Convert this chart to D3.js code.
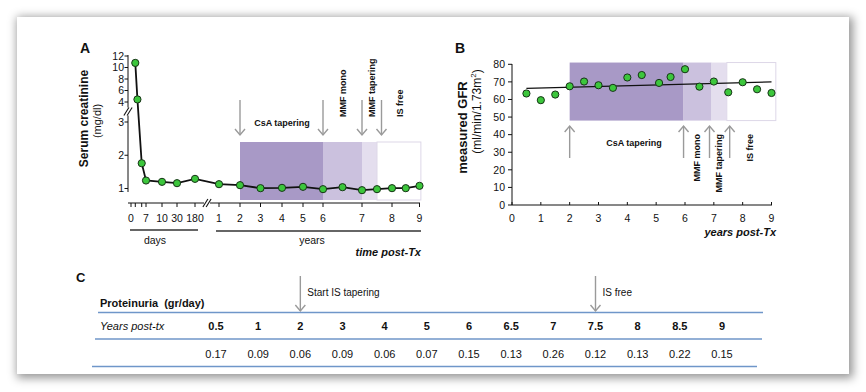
<!DOCTYPE html>
<html><head><meta charset="utf-8">
<script src="https://cdn.jsdelivr.net/npm/d3@7"></script>
<style>
body{margin:0;background:#fff;width:866px;height:392px;overflow:hidden;}
#panel{position:absolute;left:17px;top:17px;width:832px;height:357px;background:#fff;box-shadow:2px 2px 9px 2px rgba(0,0,0,0.42);}
svg{position:absolute;left:0;top:0;}
text{font-family:Arial,"Liberation Sans",sans-serif;fill:#111;}
</style></head><body><div id="panel"></div><svg id="chart" width="866" height="392"></svg>
<script>
// ---------- DATA ----------
// Panel A: serum creatinine (mg/dl)
const creatDays = [2, 3, 5, 7, 10, 30, 180];
const creatDayValues = [10.8, 4.45, 1.76, 1.24, 1.2, 1.16, 1.29];
const creatYears = [1, 2, 3, 4, 5, 6, 6.5, 7, 7.5, 8, 8.5, 9];
const creatYearValues = [1.13, 1.10, 1.01, 1.02, 1.05, 0.98, 1.04, 0.95, 0.98, 1.01, 1.01, 1.08];
const creatYTicks = [1, 2, 3, 4, 6, 8, 10, 12];
const dayTickMarks = [0, 2, 5, 7, 10, 30, 180];
const dayTickLabels = [0, 7, 10, 30, 180];
const yearTicksA = [1, 2, 3, 4, 5, 6, 7, 8, 9];
const phaseBoundsA = [2, 6, 7, 7.5, 9.05];
const eventArrowsA = [2, 6, 7, 7.65];
const phaseLabels = ["CsA tapering", "MMF mono", "MMF tapering", "IS free"];

// Panel B: measured GFR
const gfrYears = [0.5, 1, 1.5, 2, 2.5, 3, 3.5, 4, 4.5, 5.1, 5.5, 6, 6.5, 7, 7.5, 8, 8.5, 9];
const gfrValues = [63.4, 59.6, 62.8, 67.5, 70.2, 68.1, 66.6, 72.5, 73.9, 69.4, 72.8, 77.2, 67.3, 70.2, 64.1, 69.8, 65.8, 63.7];
const trendYears = [0.5, 9];
const trendValues = [66.3, 70.0];
const gfrYTicks = [0, 10, 20, 30, 40, 50, 60, 70, 80];
const gfrXTicks = [0, 1, 2, 3, 4, 5, 6, 7, 8, 9];
const phaseBoundsB = [2, 5.95, 6.92, 7.45, 9.15];
const phaseRangeB = [48, 81];
const eventArrowsB = [2, 5.95, 6.85, 7.55];

// Panel C: proteinuria (gr/day)
const protYears = ["0.5", "1", "2", "3", "4", "5", "6", "6.5", "7", "7.5", "8", "8.5", "9"];
const protValues = ["0.17", "0.09", "0.06", "0.09", "0.06", "0.07", "0.15", "0.13", "0.26", "0.12", "0.13", "0.22", "0.15"];
const protEvents = [{year: "2", label: "Start IS tapering"}, {year: "7.5", label: "IS free"}];

// ---------- STYLE ----------
const phaseFill = ["#a899c6", "#cbc1de", "#e4deee", "#ffffff"];
const phaseStroke = "#ddd7e8";
const green = "#3cc63c", greenStroke = "#173317";
const arrowCol = "#9a9a9a";
const blue = "#6f96c9";

const svg = d3.select("#chart");

function arrow(g, x, y1, y2) {
  const dir = y2 > y1 ? 1 : -1;
  g.append("line").attr("x1", x).attr("x2", x).attr("y1", y1).attr("y2", y2)
    .attr("stroke", arrowCol).attr("stroke-width", 1.4);
  g.append("path").attr("d", `M${x-5},${y2-6*dir} L${x},${y2} L${x+5},${y2-6*dir}`)
    .attr("fill", "none").attr("stroke", arrowCol).attr("stroke-width", 1.4);
}
function slashes(g, x, y, rot) {
  const s = g.append("g").attr("transform", `translate(${x},${y}) rotate(${rot})`);
  s.append("rect").attr("x", -3).attr("y", -4).attr("width", 6).attr("height", 8).attr("fill", "#fff");
  [-1.6, 1.6].forEach(o => s.append("line").attr("x1", o - 2.5).attr("x2", o + 2.5)
    .attr("y1", 4).attr("y2", -4).attr("stroke", "#111").attr("stroke-width", 1.1));
}

// ================= PANEL A =================
const A = svg.append("g");
const dayX = d3.scaleLinear().domain([0, 7, 10, 30, 180]).range([131, 146, 162, 177, 195]);
const yearXA = d3.scaleLinear().domain(yearTicksA).range([219, 240, 260.5, 282, 303, 323, 362, 392, 419.5]);
const yA = d3.scaleLinear().domain([1, 3, 4, 12]).range([188.5, 122, 102, 56]);

A.append("text").text("A").attr("x", 80).attr("y", 53).attr("font-size", 14).attr("font-weight", "bold");

for (let i = 0; i < 4; i++) {
  const x0 = yearXA(phaseBoundsA[i]), x1 = yearXA(phaseBoundsA[i + 1]);
  A.append("rect").attr("x", x0).attr("y", 142).attr("width", x1 - x0).attr("height", 58)
    .attr("fill", phaseFill[i]).attr("stroke", i === 3 ? phaseStroke : "none");
}
eventArrowsA.forEach(d => arrow(A, yearXA(d), 100, 135));
A.append("text").text(phaseLabels[0]).attr("x", 282).attr("y", 126).attr("text-anchor", "middle")
  .attr("font-size", 9).attr("font-weight", "bold");
[345.5, 375, 402.5].forEach((x, i) => {
  A.append("text").text(phaseLabels[i + 1]).attr("transform", `translate(${x},117) rotate(-90)`)
    .attr("font-size", 9).attr("font-weight", "bold");
});

// y axis
A.append("line").attr("x1", 128).attr("x2", 128).attr("y1", 55).attr("y2", 192).attr("stroke", "#111").attr("stroke-width", 1);
creatYTicks.forEach(t => {
  A.append("line").attr("x1", 124.5).attr("x2", 128).attr("y1", yA(t)).attr("y2", yA(t)).attr("stroke", "#111");
  A.append("text").text(t).attr("x", 124).attr("y", yA(t) + 3.7).attr("text-anchor", "end").attr("font-size", 10.5);
});
slashes(A, 128, 111.5, 0);

// x axis
A.append("line").attr("x1", 128).attr("x2", 204).attr("y1", 203).attr("y2", 203).attr("stroke", "#111");
A.append("line").attr("x1", 210).attr("x2", 420).attr("y1", 203).attr("y2", 203).attr("stroke", "#111");
slashes(A, 207, 203, 0);
dayTickMarks.forEach(t => A.append("line").attr("x1", dayX(t)).attr("x2", dayX(t)).attr("y1", 203).attr("y2", 207).attr("stroke", "#111"));
dayTickLabels.forEach(t => A.append("text").text(t).attr("x", dayX(t)).attr("y", 221.5).attr("text-anchor", "middle").attr("font-size", 10.5));
yearTicksA.forEach(t => {
  A.append("line").attr("x1", yearXA(t)).attr("x2", yearXA(t)).attr("y1", 203).attr("y2", 207).attr("stroke", "#111");
  A.append("text").text(t).attr("x", yearXA(t)).attr("y", 221.5).attr("text-anchor", "middle").attr("font-size", 10.5);
});
A.append("line").attr("x1", 130).attr("x2", 198).attr("y1", 230).attr("y2", 230).attr("stroke", "#333").attr("stroke-width", 1.3);
A.append("line").attr("x1", 216).attr("x2", 421).attr("y1", 231).attr("y2", 231).attr("stroke", "#333").attr("stroke-width", 1.3);
A.append("text").text("days").attr("x", 155).attr("y", 244).attr("text-anchor", "middle").attr("font-size", 10.5);
A.append("text").text("years").attr("x", 312).attr("y", 244).attr("text-anchor", "middle").attr("font-size", 10.5);
A.append("text").text("time post-Tx").attr("x", 421).attr("y", 256).attr("text-anchor", "end")
  .attr("font-size", 11).attr("font-weight", "bold").attr("font-style", "italic");

A.append("text").text("Serum creatinine").attr("transform", "translate(88,118.5) rotate(-90)")
  .attr("text-anchor", "middle").attr("font-size", 12).attr("font-weight", "bold");
A.append("text").text("(mg/dl)").attr("transform", "translate(101,121) rotate(-90)")
  .attr("text-anchor", "middle").attr("font-size", 11);

const ptsA = creatDays.map((d, i) => [dayX(d), yA(creatDayValues[i])])
  .concat(creatYears.map((d, i) => [yearXA(d), yA(creatYearValues[i])]));
A.append("path").attr("d", d3.line()(ptsA)).attr("fill", "none").attr("stroke", "#111").attr("stroke-width", 1.8);
A.selectAll("circle.a").data(ptsA).join("circle").attr("cx", d => d[0]).attr("cy", d => d[1]).attr("r", 3.6)
  .attr("fill", green).attr("stroke", greenStroke).attr("stroke-width", 1);

// ================= PANEL B =================
const B = svg.append("g");
const xB = d3.scaleLinear().domain([0, 9]).range([512, 771.5]);
const yB = d3.scaleLinear().domain([0, 80]).range([205, 64.3]);

B.append("text").text("B").attr("x", 455).attr("y", 53).attr("font-size", 14).attr("font-weight", "bold");

for (let i = 0; i < 4; i++) {
  const x0 = xB(phaseBoundsB[i]), x1 = xB(phaseBoundsB[i + 1]);
  B.append("rect").attr("x", x0).attr("y", yB(phaseRangeB[1])).attr("width", x1 - x0)
    .attr("height", yB(phaseRangeB[0]) - yB(phaseRangeB[1]))
    .attr("fill", phaseFill[i]).attr("stroke", i === 3 ? phaseStroke : "none");
}
eventArrowsB.forEach(d => arrow(B, xB(d), 158, 126));
B.append("text").text(phaseLabels[0]).attr("x", 634).attr("y", 145.5).attr("text-anchor", "middle")
  .attr("font-size", 9).attr("font-weight", "bold");
[699.5, 722, 753].forEach((x, i) => {
  B.append("text").text(phaseLabels[i + 1]).attr("transform", `translate(${x},134) rotate(-90)`)
    .attr("text-anchor", "end").attr("font-size", 9).attr("font-weight", "bold");
});

B.append("line").attr("x1", 512).attr("x2", 512).attr("y1", 64).attr("y2", 205).attr("stroke", "#111");
B.append("line").attr("x1", 512).attr("x2", 772).attr("y1", 205).attr("y2", 205).attr("stroke", "#111");
gfrYTicks.forEach(t => {
  B.append("line").attr("x1", 508).attr("x2", 512).attr("y1", yB(t)).attr("y2", yB(t)).attr("stroke", "#111");
  B.append("text").text(t).attr("x", 505).attr("y", yB(t) + 3.7).attr("text-anchor", "end").attr("font-size", 10.5);
});
gfrXTicks.forEach(t => {
  B.append("line").attr("x1", xB(t)).attr("x2", xB(t)).attr("y1", 202).attr("y2", 205).attr("stroke", "#111");
  B.append("text").text(t).attr("x", xB(t)).attr("y", 222).attr("text-anchor", "middle").attr("font-size", 10.5);
});
B.append("text").text("years post-Tx").attr("x", 776).attr("y", 235.5).attr("text-anchor", "end")
  .attr("font-size", 11).attr("font-weight", "bold").attr("font-style", "italic");

B.append("text").text("measured GFR").attr("transform", "translate(466.5,127.5) rotate(-90)")
  .attr("text-anchor", "middle").attr("font-size", 13).attr("font-weight", "bold");
const t2 = B.append("text").attr("transform", "translate(480.5,111.5) rotate(-90)")
  .attr("text-anchor", "middle").attr("font-size", 12);
t2.append("tspan").text("(ml/min/1.73m");
t2.append("tspan").text("2").attr("font-size", 8).attr("dy", -5);
t2.append("tspan").text(")").attr("dy", 5);

B.append("path").attr("d", d3.line()(trendYears.map((d, i) => [xB(d), yB(trendValues[i])])))
  .attr("stroke", "#111").attr("stroke-width", 1.3).attr("fill", "none");
B.selectAll("circle").data(gfrYears).join("circle")
  .attr("cx", d => xB(d)).attr("cy", (d, i) => yB(gfrValues[i])).attr("r", 3.6)
  .attr("fill", green).attr("stroke", greenStroke).attr("stroke-width", 1);

// ================= PANEL C =================
const C = svg.append("g");
const xC = d3.scalePoint().domain(protYears).range([216, 722]);
C.append("text").text("C").attr("x", 76).attr("y", 282).attr("font-size", 13).attr("font-weight", "bold");
C.append("text").text("Proteinuria  (gr/day)").attr("x", 100).attr("y", 306.5).attr("font-size", 11).attr("font-weight", "bold").attr("xml:space", "preserve");
[[98, 763, 312.5], [95, 762, 339], [92, 757, 366.5]].forEach(l =>
  C.append("line").attr("x1", l[0]).attr("x2", l[1]).attr("y1", l[2]).attr("y2", l[2]).attr("stroke", blue).attr("stroke-width", 1.4));
C.append("text").text("Years post-tx").attr("x", 100).attr("y", 330).attr("font-size", 11).attr("font-style", "italic");
protYears.forEach((y, i) => {
  C.append("text").text(y).attr("x", xC(y)).attr("y", 330).attr("text-anchor", "middle")
    .attr("font-size", 11).attr("font-weight", "bold");
  C.append("text").text(protValues[i]).attr("x", xC(y)).attr("y", 358).attr("text-anchor", "middle")
    .attr("font-size", 11);
});
protEvents.forEach(e => {
  arrow(C, xC(e.year), 276, 311);
  C.append("text").text(e.label).attr("x", xC(e.year) + 7).attr("y", 296).attr("font-size", 10).attr("fill", "#333");
});
</script></body></html>
